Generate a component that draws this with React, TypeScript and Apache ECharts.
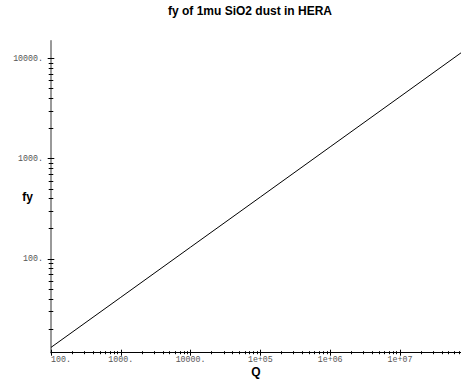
import React, { useEffect, useRef } from "react";
import * as echarts from "echarts";

// Data (fy grows like sqrt(Q))
const qValues = [100, 1000, 10000, 1e5, 1e6, 1e7, 7.5e7];
const fyValues = [13.1, 41.4, 131, 414, 1310, 4140, 11350];

// Axis tick values and labels
const xMajorTicks = [100, 1000, 10000, 1e5, 1e6, 1e7];
const xTickLabels = ["100.", "1000.", "10000.", "1e+05", "1e+06", "1e+07"];
const yMajorTicks = [100, 1000, 10000];
const yTickLabels = ["100.", "1000.", "10000."];
const minorFactors = [2, 3, 4, 5, 6, 7, 8, 9];
const xDecades = [100, 1000, 10000, 1e5, 1e6, 1e7];
const yDecades = [10, 100, 1000, 10000];

const X_MIN = 99.999;
const X_MAX = 7.5e7;
const Y_MIN = 11.6;
const Y_MAX = 15000;

const xMinorTicks = xDecades.flatMap((d) => minorFactors.map((f) => f * d)).filter((v) => v < X_MAX);
const yMinorTicks = yDecades.flatMap((d) => minorFactors.map((f) => f * d)).filter((v) => v < Y_MAX && v > Y_MIN);

const labelFor = (ticks: number[], labels: string[]) => (v: number) => {
  for (let i = 0; i < ticks.length; i++) {
    if (Math.abs(Math.log10(v) - Math.log10(ticks[i])) < 1e-6) return labels[i];
  }
  return "";
};

const LABEL_FONT = {
  fontFamily: "Liberation Mono",
  fontSize: 8.3,
  color: "#555",
};

const NAME_FONT = { fontFamily: "Liberation Sans", fontWeight: "bold", fontSize: 12, color: "#000" };

function makeX(ticks: number[], len: number, inside: boolean, main: boolean) {
  return {
    type: "log",
    logBase: 10,
    min: X_MIN,
    max: X_MAX,
    position: "bottom",
    offset: 0,
    name: main ? "Q" : "",
    nameLocation: "middle",
    nameGap: 13,
    nameMoveOverlap: false,
    nameTextStyle: NAME_FONT,
    axisLine: { show: main, lineStyle: { color: "#000", width: 1 } },
    axisTick: { show: true, inside, length: len, customValues: ticks, lineStyle: { color: "#000", width: 1 } },
    axisLabel: main
      ? { show: true, customValues: xMajorTicks, formatter: labelFor(xMajorTicks, xTickLabels), margin: 3, alignMinLabel: "left", ...LABEL_FONT }
      : { show: false },
    splitLine: { show: false },
    minorTick: { show: false },
    axisPointer: { show: false },
  };
}

function makeY(ticks: number[], len: number, inside: boolean, main: boolean) {
  return {
    type: "log",
    logBase: 10,
    min: Y_MIN,
    max: Y_MAX,
    position: "left",
    offset: 0,
    name: main ? "fy" : "",
    nameLocation: "middle",
    nameGap: 18,
    nameRotate: 0,
    nameMoveOverlap: false,
    nameTextStyle: NAME_FONT,
    axisLine: { show: main, lineStyle: { color: "#777", width: 1.5 } },
    axisTick: { show: true, inside, length: len, customValues: ticks, lineStyle: { color: "#000", width: 1 } },
    axisLabel: main
      ? { show: true, customValues: yMajorTicks, formatter: labelFor(yMajorTicks, yTickLabels), margin: 8, ...LABEL_FONT }
      : { show: false },
    splitLine: { show: false },
    minorTick: { show: false },
    axisPointer: { show: false },
  };
}

export default function App() {
  const ref = useRef<HTMLDivElement>(null);
  useEffect(() => {
    if (!ref.current) return;
    const chart = echarts.init(ref.current, undefined, { renderer: "svg" });
    chart.setOption({
      animation: false,
      backgroundColor: "#fff",
      graphic: [
        {
          type: "text",
          x: 250,
          y: 11,
          style: {
            text: "fy of 1mu SiO2 dust in HERA",
            fontFamily: "Liberation Sans",
            fontWeight: "bold",
            fontSize: 12,
            fill: "#000",
            textAlign: "center",
            textVerticalAlign: "middle",
          },
        },
      ],
      grid: { left: 51, right: 0, top: 40.7, bottom: 28.3, containLabel: false, outerBoundsMode: "none" },
      xAxis: [
        makeX(xMajorTicks, 3, false, true),
        makeX(xMajorTicks, 3, true, false),
        makeX(xMinorTicks, 1.5, false, false),
        makeX(xMinorTicks, 1.5, true, false),
      ],
      yAxis: [
        makeY(yMajorTicks, 3.3, false, true),
        makeY(yMajorTicks, 3.3, true, false),
        makeY(yMinorTicks, 2.3, false, false),
        makeY(yMinorTicks, 2.3, true, false),
      ],
      series: [
        {
          type: "line",
          xAxisIndex: 0,
          yAxisIndex: 0,
          data: qValues.map((q, i) => [q, fyValues[i]]),
          symbol: "none",
          lineStyle: { color: "#000", width: 1 },
          clip: true,
          silent: true,
        },
      ],
    });
    return () => chart.dispose();
  }, []);
  return (
    <div
      ref={ref}
      style={{ position: "fixed", left: 0, top: 0, width: 461, height: 381, background: "#fff" }}
    />
  );
}
